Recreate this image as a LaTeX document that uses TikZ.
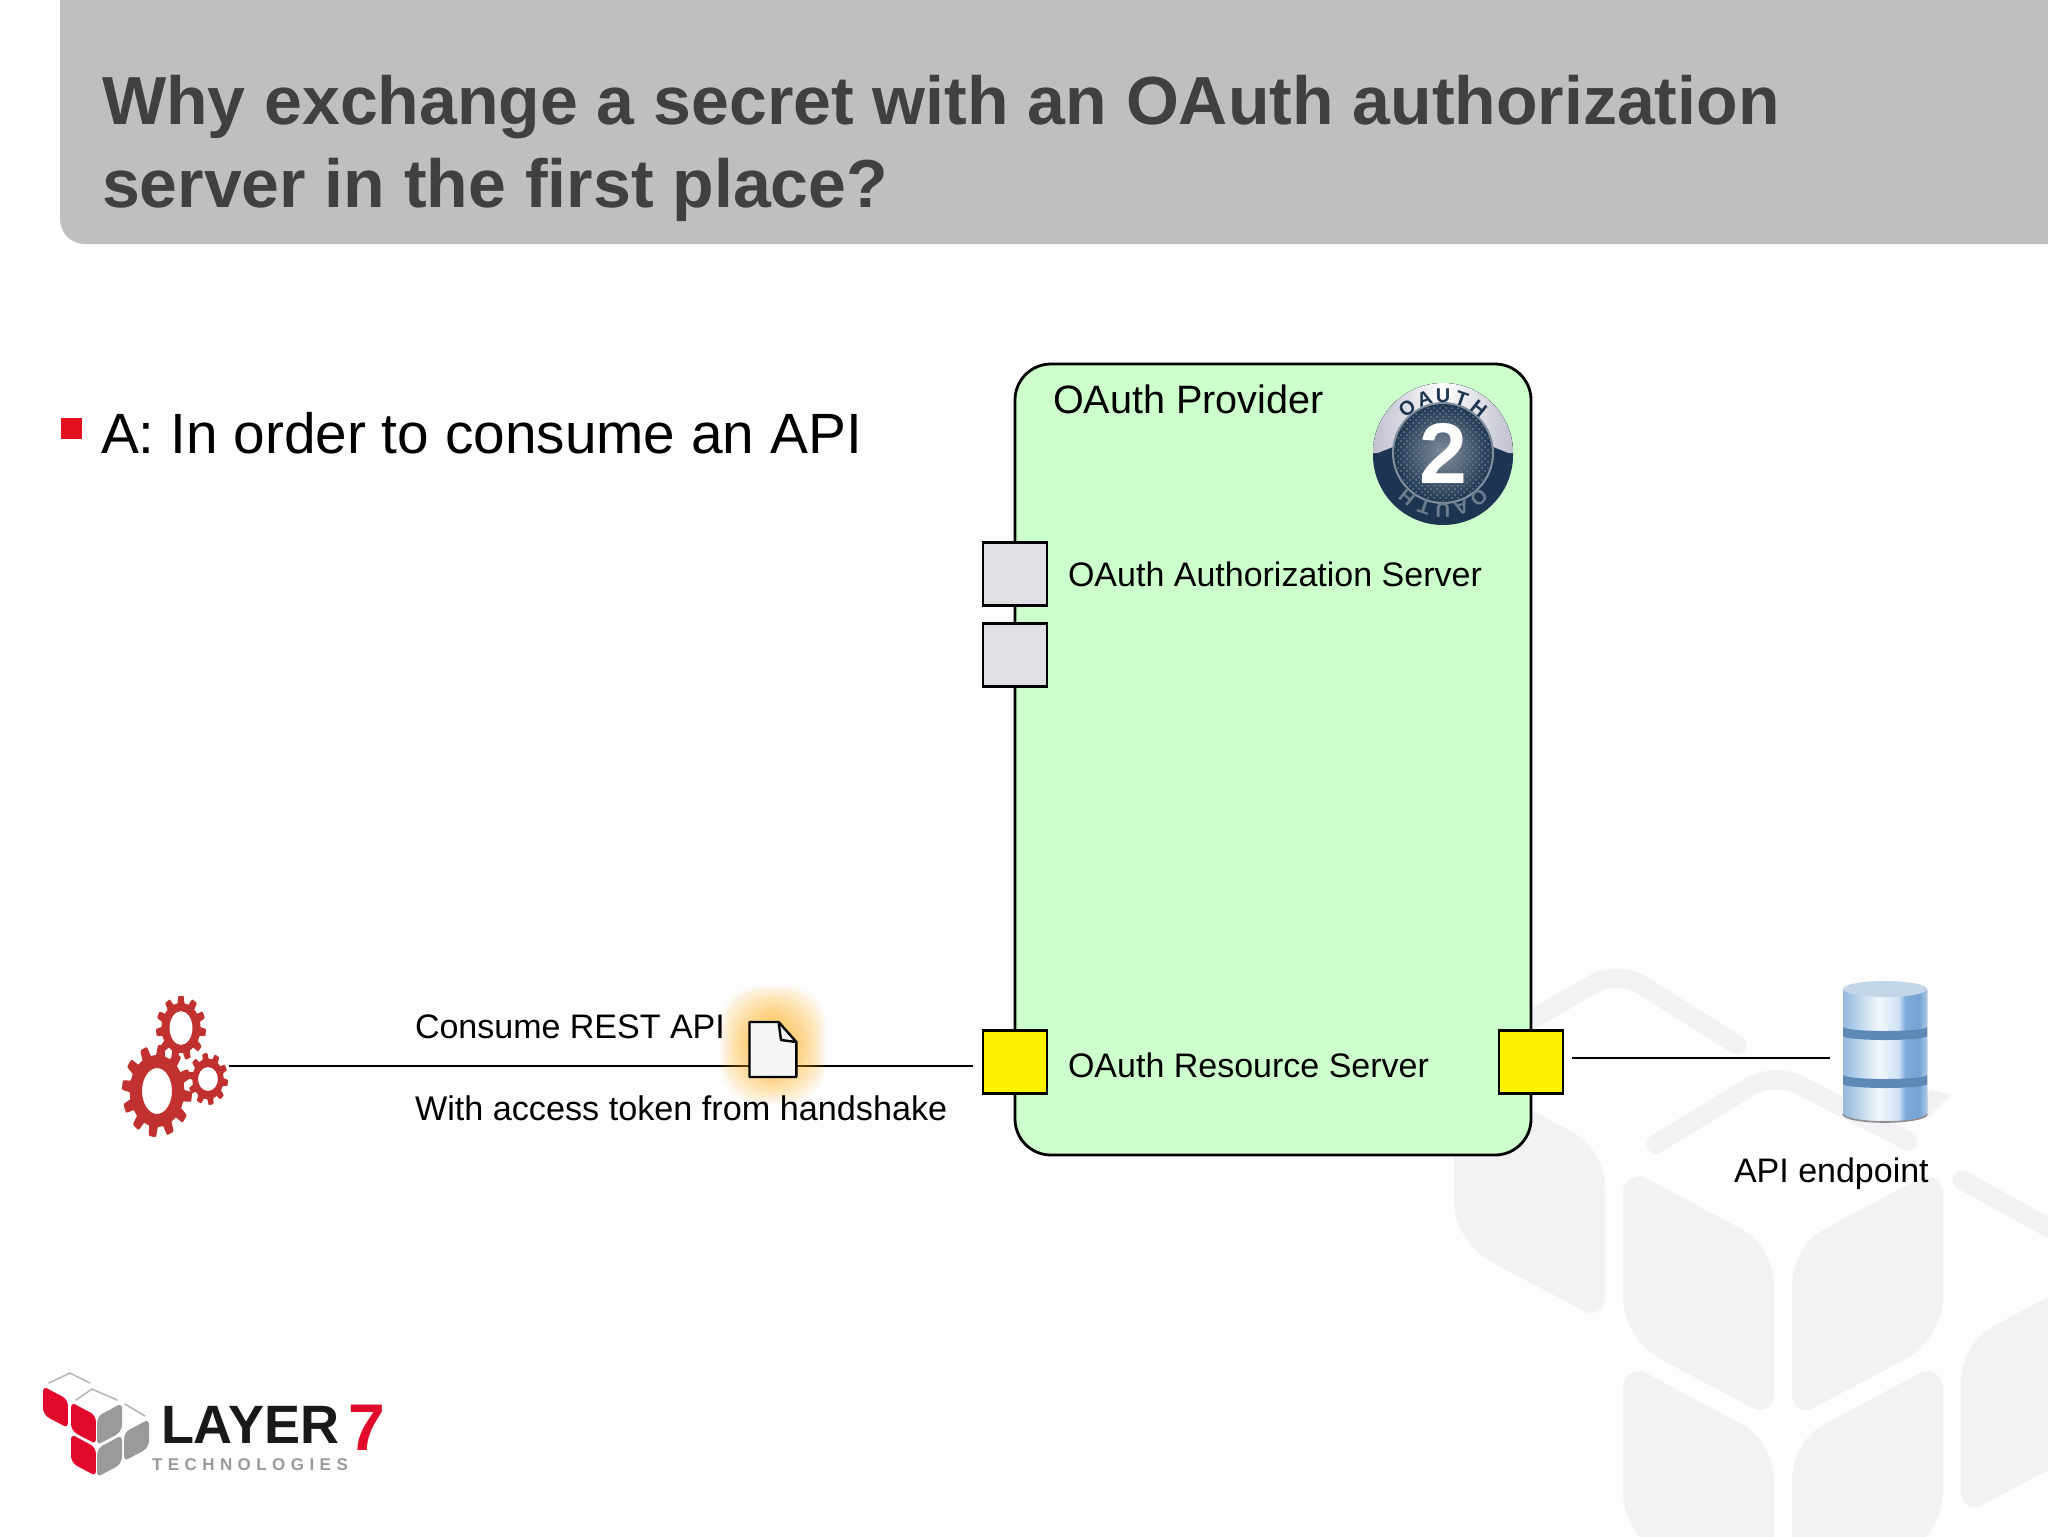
\documentclass[tikz,border=0pt]{standalone}
\usepackage{fontspec}
\setmainfont{Liberation Sans}
\usetikzlibrary{patterns,calc}
\definecolor{wm}{HTML}{F2F1F3}
\definecolor{pagebg}{HTML}{FDFDFD}
\definecolor{titlebar}{HTML}{BFBFBF}
\definecolor{titleink}{HTML}{404040}
\definecolor{bulletred}{HTML}{E3101F}
\definecolor{provider}{HTML}{CCFFCC}
\definecolor{portgrey}{HTML}{E0E0E4}
\definecolor{gearred}{HTML}{C1312F}
\definecolor{logored}{HTML}{E20A2B}
\definecolor{logogrey}{HTML}{9A9A9A}
\definecolor{navy}{HTML}{1D3550}
\definecolor{dba}{HTML}{98BADC}
\definecolor{dbb}{HTML}{A8C6E4}
\definecolor{dbc}{HTML}{F2F8FC}
\definecolor{dbd}{HTML}{CFE2F3}
\definecolor{dbe}{HTML}{7FABD8}
\definecolor{dbf}{HTML}{74A2D2}
\definecolor{dbg}{HTML}{A8CAE8}
\definecolor{dbgroove}{HTML}{5C8AB5}
\definecolor{dbtop}{HTML}{C3D6E8}
\pgfdeclarehorizontalshading{dbshade}{100bp}{
 color(0bp)=(dba);
 color(25bp)=(dba);
 color(30bp)=(dbb);
 color(46bp)=(dbc);
 color(58bp)=(dbd);
 color(62bp)=(dbe);
 color(70bp)=(dbf);
 color(75bp)=(dbg);
 color(100bp)=(dbg)}
\newcommand{\leaf}[5]{\fill[#1,shift={(#2,#3)},xscale=#4,yscale=#5]
 (0,15) .. controls (0,5) and (10,-3) .. (21,0) -- (120,53) .. controls (142,66) and (151,90) .. (151,109)
 -- (151,217) .. controls (151,228) and (142,236) .. (132,232) -- (41,184) .. controls (15,170) and (0,145) .. (0,120) -- cycle;}
\newcommand{\gearwheel}[8]{% cx cy rx ry teeth holex holey name
 \fill[gearred,even odd rule] plot[domain=0:360,samples=241,variable=\t]
  ({#1+#3*(0.78+0.22*min(1,max(0,0.5+1.4*sin(#5*\t))))*cos(\t)},
   {#2+#4*(0.78+0.22*min(1,max(0,0.5+1.4*sin(#5*\t))))*sin(\t)})
  (#1,#2) ellipse[x radius=#6*0.5pt,y radius=#7*0.5pt];
 \coordinate (#8) at (#1,#2);}
\newcommand{\fs}[1]{\fontsize{#1pt}{#1pt}\selectfont}
\tikzset{
 txt/.style={anchor=base west,inner sep=0pt,outer sep=0pt,text=black},
 port/.style={draw=black,line width=1.4pt,minimum width=32pt,minimum height=31.5pt,inner sep=0pt},
 wire/.style={draw=black,line width=1.4pt},
 roof/.style={draw=wm,line width=9.5pt,rounded corners=14pt,line cap=round},
 logoroof/.style={draw=logogrey!70,line width=0.8pt,line cap=round},
 badge/.style={inner sep=0pt,font=\bfseries\fs{10}}
}
\begin{document}
\begin{tikzpicture}[x=0.5pt,y=-0.5pt]
\useasboundingbox (0,0) rectangle (2048,1536);
\fill[white] (0,0) rectangle (2048,1536);
\fill[pagebg] (80,244) rectangle (2048,1536);
% watermark
\begin{scope}
\clip (0,0) rectangle (2048,1536);
\leaf{wm}{1454}{1080}{1}{1}
\leaf{wm}{1623}{1177}{1}{1}
\leaf{wm}{1623}{1372}{1}{1}
\leaf{wm}{1943}{1177}{-1}{1}
\leaf{wm}{1943}{1372}{-1}{1}
\leaf{wm}{2112}{1274}{-1}{1}
\draw[roof] (1536,1017) -- (1618,970) -- (1737,1045);
\draw[roof] (1656,1144) -- (1774,1072) -- (1908,1141);
\draw[roof] (1962,1180) -- (2060,1234);
\end{scope}
% title
\fill[titlebar] (60,0) -- (60,219) .. controls (60,233) and (71,244) .. (85,244) -- (2048,244) -- (2048,0) -- cycle;
\node[txt,text=titleink,font=\bfseries\fs{34}] (title1) at (102,125) {Why exchange a secret with an OAuth authorization};
\node[txt,text=titleink,font=\bfseries\fs{34}] (title2) at (102,207) {server in the first place?};
% bullet
\fill[bulletred] (61,418) rectangle (82,439);
\node[txt,font=\fs{28.4}] (answer) at (101,453) {A: In order to consume an API};
% provider
\draw[line width=1.4pt,fill=provider,rounded corners=18pt] (1015,364) rectangle (1531,1155);
\node[txt,font=\fs{19.8}] (provlabel) at (1053,413) {OAuth Provider};
\node[port,fill=portgrey] (authport) at (1015,574) {};
\node[port,fill=portgrey] (authport2) at (1015,655) {};
\node[port,fill=yellow] (resleft) at (1015,1062) {};
\node[port,fill=yellow] (resright) at (1531,1062) {};
\node[txt,font=\fs{17}] (authlabel) at (1068,586) {OAuth Authorization Server};
\node[txt,font=\fs{17}] (reslabel) at (1068,1077) {OAuth Resource Server};
% badge
\coordinate (bc) at (1443,453);
\fill[navy] (bc) circle[radius=35pt];
\fill[left color=blue!25!black!25!white,right color=blue!25!black!25!white,middle color=white]
 (1373,453) arc[start angle=180,end angle=0,radius=35pt] -- cycle;
\fill[navy] (1373,455) -- (1403,443) -- (1483,443) -- (1513,455) arc[start angle=0,end angle=-180,radius=35pt];
\fill[inner color=navy!55!white,outer color=navy] (bc) circle[radius=25pt];
\fill[pattern=crosshatch dots,pattern color=white!35!navy] (bc) circle[radius=24pt];
\draw[white!45!navy,line width=1pt] (bc) circle[radius=25pt];
\foreach \i/\a/\c in {1/129/O,2/109/A,3/90/U,4/71/T,5/51/H}{
 \node[badge,text=navy,rotate=\a-90] (bt\i) at ($(bc)+(\a:28.5pt)$) {\c};
 \node[badge,text=navy!65!white,rotate=\a+90] (bb\i) at ($(bc)+(\a+180:28.5pt)$) {\c};
}
\node[inner sep=0pt,text=white,font=\bfseries\fs{43}] (two) at (1443,453) {2};
% left connector with token
\coordinate (wireA) at (229,1066);
\coordinate (wireB) at (973,1066);
\draw[wire] (wireA) -- (wireB);
\foreach \k in {0,...,15}{
 \fill[orange!65!yellow,opacity=0.045,rounded corners=20pt]
  ({720+\k*1.9},{986+\k*1.9}) rectangle ({826-\k*1.9},{1104-\k*1.9});
}
\draw[line width=1.2pt,fill=black!4,line join=round] (749.5,1022) -- (778.6,1022) -- (796.4,1042) -- (796.4,1077) -- (749.5,1077) -- cycle;
\draw[line width=1.2pt,line join=round] (778.6,1022) -- (781,1040) -- (796.4,1042);
\node[txt,font=\fs{17}] (consume) at (415,1038) {Consume REST API};
\node[txt,font=\fs{17.1}] (withtoken) at (415,1120) {With access token from handshake};
% gears
\gearwheel{157}{1091}{35}{46}{12}{15}{23}{gearbig}
\gearwheel{181}{1028}{25}{32}{11}{11.5}{17}{geartop}
\gearwheel{208}{1079}{20}{26}{10}{10}{12}{gearsmall}
% right connector, database
\coordinate (wireC) at (1572,1058);
\coordinate (wireD) at (1830,1058);
\draw[wire] (wireC) -- (wireD);
\fill[black!30,opacity=0.15] (1880,1122) -- (1927,1118) -- (1950,1095) -- (1932,1090) -- cycle;
\fill[shading=dbshade] (1843,989) -- (1843,1114) arc[start angle=180,end angle=360,x radius=21pt,y radius=4pt] -- (1927,989) -- cycle;
\fill[dbgroove] (1843,1027) arc[start angle=180,end angle=360,x radius=21pt,y radius=2pt] -- (1927,1036) arc[start angle=0,end angle=-180,x radius=21pt,y radius=2pt] -- cycle;
\fill[dbgroove] (1843,1075) arc[start angle=180,end angle=360,x radius=21pt,y radius=2pt] -- (1927,1084) arc[start angle=0,end angle=-180,x radius=21pt,y radius=2pt] -- cycle;
\fill[dbtop] (1885,989) ellipse[x radius=21pt,y radius=4pt];
\draw[black!45,line width=0.8pt] (1843,1114) arc[start angle=180,end angle=360,x radius=21pt,y radius=4pt];
\node[txt,font=\fs{17}] (apilabel) at (1734,1182) {API endpoint};
% logo
\leaf{logored}{43}{1388}{0.165}{0.165}
\leaf{logored}{71}{1404}{0.165}{0.165}
\leaf{logored}{71}{1436}{0.165}{0.165}
\leaf{logogrey}{122}{1405}{-0.165}{0.165}
\leaf{logogrey}{122}{1437}{-0.165}{0.165}
\leaf{logogrey}{149}{1421}{-0.165}{0.165}
\draw[logoroof] (49,1383) -- (70,1373) -- (90,1383);
\draw[logoroof] (76,1400) -- (92,1389) -- (117,1400);
\draw[logoroof] (125,1404) -- (145,1416);
\node[txt,text=black!90,font=\bfseries\fs{27}] (layer) at (161,1443) {LAYER};
\node[txt,text=logored,font=\bfseries\fs{33}] (seven) at (348,1450) {7};
\node[txt,text=logogrey,font=\bfseries\fs{8.5}\addfontfeature{LetterSpace=32}] (tech) at (152,1470) {TECHNOLOGIES};
\end{tikzpicture}
\end{document}
